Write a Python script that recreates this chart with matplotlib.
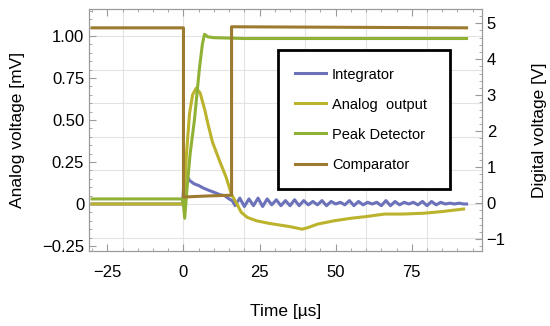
# Сигналы тракта детектора: аналоговые (мВ) и цифровые (В)

from matplotlib import pyplot as plt
from matplotlib.ticker import MultipleLocator
from matplotlib.lines import Line2D

# время, мкс
integratorTime = [-30, -0.3, 0.3, 0.8, 2, 3.5, 5, 6.5, 8.5, 10, 12, 13.5, 15, 16,
                  17, 18.5, 20, 21.5, 23, 24.5, 26, 27.5, 29, 30.5, 32, 33.5, 35, 36.5,
                  38, 39.5, 41, 42.5, 44, 45.5, 47, 48.5, 50, 51.5, 53, 54.5, 56, 57.5,
                  59, 60.5, 62, 63.5, 65, 66.5, 68, 69.5, 71, 72.5, 74, 75.5, 77, 78.5,
                  80, 81.5, 83, 84.5, 86, 87.5, 89, 90.5, 92, 93]
integratorValues = [0.0, 0.0, 0.17, 0.18, 0.14, 0.12, 0.11, 0.095, 0.08, 0.07, 0.055, 0.05, 0.03, 0.02,
                    -0.01, 0.035, -0.015, 0.03, -0.01, 0.035, -0.015, 0.03, -0.005, 0.025, -0.01, 0.02, -0.01, 0.025,
                    -0.01, 0.02, -0.005, 0.015, -0.005, 0.02, -0.01, 0.015, 0.0, 0.01, -0.005, 0.02, -0.01, 0.015,
                    -0.005, 0.01, 0.0, 0.01, -0.01, 0.02, -0.01, 0.015, -0.005, 0.01, 0.0, 0.01, -0.005, 0.015,
                    -0.01, 0.015, -0.005, 0.01, 0.0, 0.005, 0.0, 0.005, 0.0, 0.0]

analogTime = [-30, -0.2, 0.5, 1, 2, 3, 4.2, 5.5, 7, 8, 9.5, 12, 14, 15.7, 17.4, 19, 21, 24,
              28, 31.5, 35, 39, 41, 44, 49.5, 55, 60, 66, 72, 79, 85, 92]
analogValues = [0.0, 0.0, 0.12, 0.3, 0.54, 0.65, 0.69, 0.66, 0.56, 0.48, 0.37, 0.25, 0.16, 0.06, 0.005, -0.05, -0.08, -0.1,
                -0.115, -0.125, -0.135, -0.15, -0.14, -0.12, -0.1, -0.085, -0.075, -0.06, -0.06, -0.055, -0.045, -0.03]

peakTime = [-30, -0.2, 0.4, 1.2, 2.2, 3.6, 5.2, 6.2, 6.9, 8, 10, 20, 50, 93]
peakValues = [0.03, 0.03, -0.085, 0.1, 0.3, 0.5, 0.8, 0.95, 1.01, 0.995, 0.99, 0.985, 0.985, 0.985]

comparatorTime = [-30, 0, 0, 8, 15.8, 15.8, 93]
comparatorValues = [4.87, 4.87, 0.17, 0.2, 0.22, 4.9, 4.87]

labels = ['Integrator', 'Analog  output', 'Peak Detector', 'Comparator']
colors = ['#6b72b9', '#bcb32c', '#8fb134', '#9c7a30']

plt.rcParams['font.family'] = ['Liberation Sans', 'DejaVu Sans']
frameColor = '#9a9a9a'

fig = plt.figure(figsize=(5.5, 3.26), dpi=100)
ax = fig.add_axes([0.162, 0.230, 0.714, 0.742])
ax2 = ax.twinx()

# аналоговые сигналы на левой оси
ax.plot(integratorTime, integratorValues, color=colors[0], lw=2.2)
ax.plot(analogTime, analogValues, color=colors[1], lw=2.2)
ax.plot(peakTime, peakValues, color=colors[2], lw=2.2)
# цифровой сигнал на правой оси
ax2.plot(comparatorTime, comparatorValues, color=colors[3], lw=2.2)

ax.set_xlim(-31, 98)
ax.set_ylim(-0.28, 1.16)
ax2.set_ylim(-1.33, 5.39)

ax.set_xticks([-25, 0, 25, 50, 75])
ax.set_xticklabels(['\u221225', '0', '25', '50', '75'])
ax.xaxis.set_minor_locator(MultipleLocator(5))
ax.set_yticks([-0.25, 0, 0.25, 0.5, 0.75, 1.0])
ax.set_yticklabels(['\u22120.25', '0', '0.25', '0.50', '0.75', '1.00'])
ax.yaxis.set_minor_locator(MultipleLocator(0.05))
ax2.set_yticks([-1, 0, 1, 2, 3, 4, 5])
ax2.set_yticklabels(['\u22121', '0', '1', '2', '3', '4', '5'])
ax2.yaxis.set_minor_locator(MultipleLocator(0.2))

# сетка с собственным шагом
for x in [-20, 0, 20, 40, 60, 80]:
    ax.axvline(x, color='#e3e3e3', lw=0.8, zorder=0)
for y in [-0.2, 0, 0.2, 0.4, 0.6, 0.8, 1.0]:
    ax.axhline(y, color='#e3e3e3', lw=0.8, zorder=0)

ax.tick_params(which='both', direction='in', top=True, color=frameColor, labelsize=12)
ax.tick_params(which='major', length=5)
ax.tick_params(which='minor', length=2.5)
ax.tick_params(axis='x', pad=10)
ax.tick_params(axis='y', right=False)
ax2.tick_params(which='both', direction='in', color=frameColor, labelsize=12)
ax2.tick_params(which='major', length=5)
ax2.tick_params(which='minor', length=2.5)
for a in (ax, ax2):
    for s in a.spines.values():
        s.set_color(frameColor)

ax.set_xlabel('Time [\u00b5s]', fontsize=12.5, labelpad=17)
ax.set_ylabel('Analog voltage [mV]', fontsize=12.5, labelpad=12)
ax2.set_ylabel('Digital voltage [V]', fontsize=12.5, labelpad=19)

handles = [Line2D([], [], color=c, lw=2.2) for c in colors]
leg = ax2.legend(handles, labels, loc='upper left', bbox_to_anchor=(0.481, 0.26, 0.438, 0.571),
                 mode='expand', fontsize=10.5, frameon=True, fancybox=False, framealpha=1,
                 edgecolor='black', handlelength=2.1, handletextpad=0.4, labelspacing=1.1,
                 borderpad=1.2, borderaxespad=0)
leg.get_frame().set_linewidth(2)

plt.savefig('out.png', dpi=100)
